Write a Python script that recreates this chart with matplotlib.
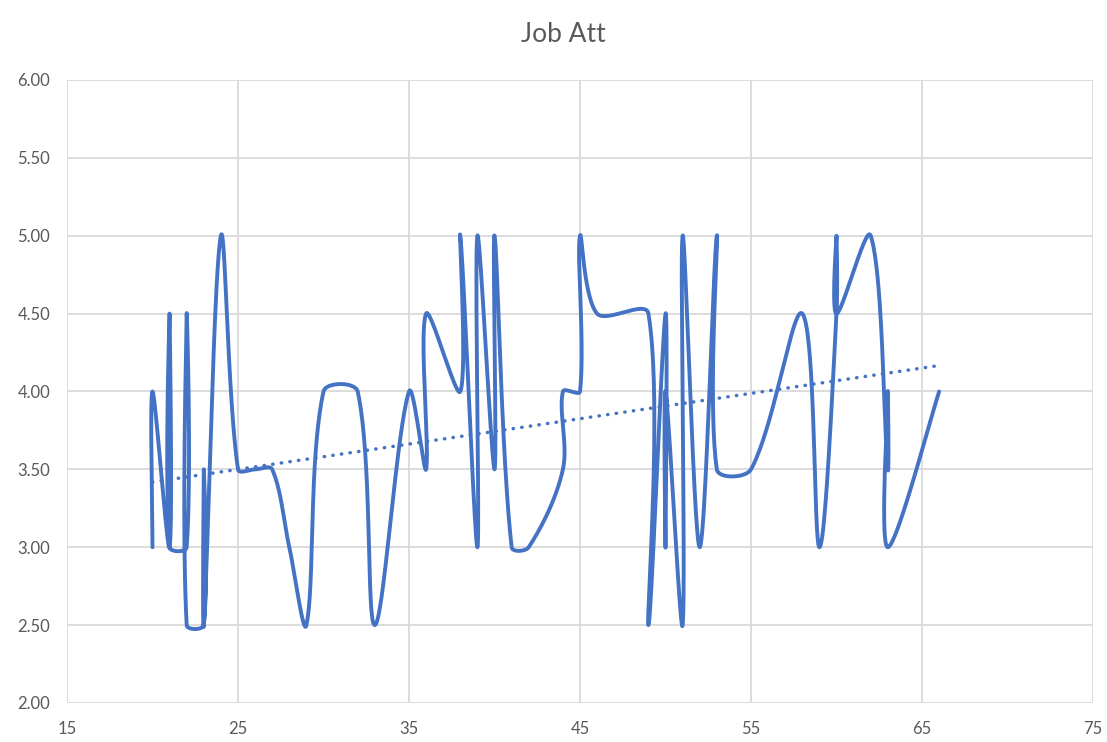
import numpy as np
import matplotlib
matplotlib.use("Agg")
import matplotlib.pyplot as plt

# Respondent age and job attitude score, in survey order
ages = [20, 20, 21, 21, 21, 22, 22, 22, 23, 23, 23, 24, 25, 26, 27, 28, 29, 30, 32, 33,
        35, 36, 36, 38, 38, 39, 39, 40, 40, 41, 42, 44, 44, 45, 45, 46, 49, 49, 50, 50,
        50, 51, 51, 52, 53, 53, 55, 58, 59, 60, 60, 60, 62, 63, 63, 63, 66]
job_att = [3.0, 4.0, 3.0, 4.5, 3.0, 3.0, 4.5, 2.5, 2.5, 3.5, 2.5, 5.0, 3.5, 3.5, 3.5, 3.0, 2.5, 4.0, 4.0, 2.5,
           4.0, 3.5, 4.5, 4.0, 5.0, 3.0, 5.0, 3.5, 5.0, 3.0, 3.0, 3.5, 4.0, 4.0, 5.0, 4.5, 4.5, 2.5, 4.5, 3.0,
           4.0, 2.5, 5.0, 3.0, 5.0, 3.5, 3.5, 4.5, 3.0, 4.5, 5.0, 4.5, 5.0, 3.5, 4.0, 3.0, 4.0]

x_ticks = [15, 25, 35, 45, 55, 65, 75]
y_ticks = [2.0, 2.5, 3.0, 3.5, 4.0, 4.5, 5.0, 5.5, 6.0]

BLUE = "#4472C4"
GRID = "#D9D9D9"
TEXT = "#595959"
FONT = ["Lato", "DejaVu Sans"]


def smooth_curve(ax, xs, ys, n=40):
    """Cubic Bezier spline through every point, built in screen space with
    chord-length weighted tangents so short segments do not overshoot."""
    pts = ax.transData.transform(np.column_stack([xs, ys]).astype(float))
    m = len(pts)
    seglen = np.hypot(*np.diff(pts, axis=0).T)

    def tangent(i):
        prev = pts[i - 1] if i > 0 else pts[i]
        nxt = pts[i + 1] if i + 1 < m else pts[i]
        return (nxt - prev) / 6.0

    out = [pts[0]]
    t = np.linspace(0, 1, n)[1:, None]
    for i in range(m - 1):
        L = seglen[i]
        Lp = seglen[i - 1] if i > 0 else L
        Ln = seglen[i + 1] if i + 1 < m - 1 else L
        w1 = 2 * L / (L + Lp) if (L + Lp) > 0 else 0
        w2 = 2 * L / (L + Ln) if (L + Ln) > 0 else 0
        c1 = pts[i] + tangent(i) * w1
        c2 = pts[i + 1] - tangent(i + 1) * w2
        seg = ((1 - t) ** 3) * pts[i] + 3 * ((1 - t) ** 2) * t * c1 \
            + 3 * (1 - t) * t ** 2 * c2 + t ** 3 * pts[i + 1]
        out.extend(seg)
    data = ax.transData.inverted().transform(np.array(out))
    return data[:, 0], data[:, 1]


fig = plt.figure(figsize=(11.07, 7.42), dpi=100)
ax = fig.add_axes([0.0605, 0.0526, 0.9269, 0.8396])
ax.set_xlim(15, 75)
ax.set_ylim(2, 6)

sx, sy = smooth_curve(ax, ages, job_att)
ax.plot(sx, sy, color=BLUE, lw=2.8, solid_capstyle="round", solid_joinstyle="round", zorder=3)

# Linear trend line over the observed age range
slope, intercept = np.polyfit(ages, job_att, 1)
tx = np.array([min(ages), max(ages)])
ax.plot(tx, slope * tx + intercept, color=BLUE, lw=2.5,
        linestyle=(0, (0.1, 2.4)), dash_capstyle="round", zorder=3)

ax.set_xticks(x_ticks)
ax.set_yticks(y_ticks)
ax.set_xticklabels([str(v) for v in x_ticks], fontfamily=FONT, fontsize=12, color=TEXT)
ax.set_yticklabels([f"{v:.2f}" for v in y_ticks], fontfamily=FONT, fontsize=12, color=TEXT)
ax.tick_params(axis="x", length=0, pad=13)
ax.tick_params(axis="y", length=0, pad=12)
ax.grid(True, color=GRID, lw=1.3)
ax.set_axisbelow(True)
for s in ax.spines.values():
    s.set_visible(False)

fig.text(0.5085, 0.953, "Job Att", ha="center", va="center",
         fontfamily=FONT, fontsize=19, color=TEXT)

fig.savefig("out.png", dpi=100, facecolor="white")
